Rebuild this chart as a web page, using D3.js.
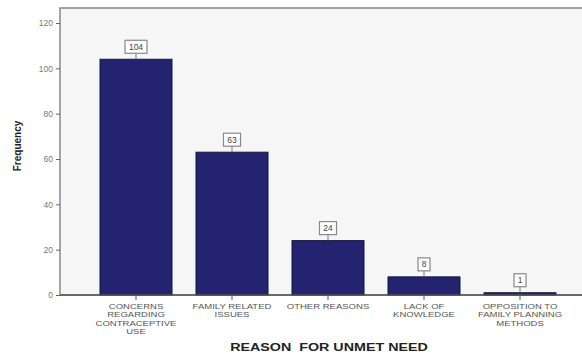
<!DOCTYPE html>
<html>
<head>
<meta charset="utf-8">
<script src="https://cdn.jsdelivr.net/npm/d3@7"></script>
<style>
	body { margin: 0; background: #fff; }
	text { font-family: "Liberation Sans", Arial, sans-serif; }
</style>
</head>
<body>
<svg width="582" height="356"></svg>
<script>
	var categories = [
		['CONCERNS', 'REGARDING', 'CONTRACEPTIVE', 'USE'],
		['FAMILY RELATED', 'ISSUES'],
		['OTHER REASONS'],
		['LACK OF', 'KNOWLEDGE'],
		['OPPOSITION TO', 'FAMILY PLANNING', 'METHODS']
	]
	var frequency = [104, 63, 24, 8, 1]
	var yTicks = [0, 20, 40, 60, 80, 100, 120]

	var svg = d3.select('svg')

	var plotLeft = 60, plotTop = 8, plotRight = 590, plotBottom = 295

	var x = d3.scaleBand()
		.domain(d3.range(categories.length))
		.range([88, 568])
		.paddingInner(0.25)
		.paddingOuter(0.125)

	var y = d3.scaleLinear()
		.domain([0, 120])
		.range([plotBottom, 23])

	// plot background
	svg.append('rect')
		.attr('x', plotLeft)
		.attr('y', plotTop)
		.attr('width', plotRight - plotLeft)
		.attr('height', plotBottom - plotTop)
		.attr('fill', '#f6f6f6')
		.attr('stroke', '#888')
		.attr('stroke-width', 1.5)

	// bars
	svg.selectAll('rect.bar')
		.data(frequency)
		.enter()
		.append('rect')
		.attr('class', 'bar')
		.attr('x', function(d, i) { return x(i) })
		.attr('y', function(d) { return y(d) })
		.attr('width', x.bandwidth())
		.attr('height', function(d) { return plotBottom - y(d) })
		.attr('fill', '#23236f')
		.attr('stroke', '#151540')
		.attr('stroke-width', 1)

	// value labels
	var lab = svg.selectAll('g.lab')
		.data(frequency)
		.enter()
		.append('g')
		.attr('transform', function(d, i) {
			return 'translate(' + (x(i) + x.bandwidth() / 2) + ',' + y(d) + ')'
		})
	lab.append('line')
		.attr('y1', 0)
		.attr('y2', -6)
		.attr('stroke', '#777')
	lab.append('rect')
		.attr('x', function(d) { return -(String(d).length * 2.5 + 3.5) })
		.attr('width', function(d) { return String(d).length * 5 + 7 })
		.attr('y', -19)
		.attr('height', 13)
		.attr('fill', '#fff')
		.attr('stroke', '#888')
		.attr('stroke-width', 1.2)
	lab.append('text')
		.attr('y', -9.5)
		.attr('text-anchor', 'middle')
		.attr('font-size', 8.5)
		.attr('fill', '#444')
		.text(function(d) { return d })

	// y axis
	var yAxis = svg.append('g')
		.attr('transform', 'translate(' + plotLeft + ',0)')
		.call(d3.axisLeft(y).tickValues(yTicks).tickSize(4).tickPadding(3))
	yAxis.select('.domain').remove()
	yAxis.selectAll('line').attr('stroke', '#666')
	yAxis.selectAll('text').attr('font-size', 8.5).attr('fill', '#777')

	// x axis
	svg.append('line')
		.attr('x1', plotLeft).attr('x2', plotRight)
		.attr('y1', plotBottom).attr('y2', plotBottom)
		.attr('stroke', '#555').attr('stroke-width', 1.5)

	var xt = svg.selectAll('g.xt')
		.data(categories)
		.enter()
		.append('g')
		.attr('transform', function(d, i) {
			return 'translate(' + (x(i) + x.bandwidth() / 2) + ',' + plotBottom + ')'
		})
	xt.append('line')
		.attr('y1', 0).attr('y2', 5)
		.attr('stroke', '#555')
	xt.append('text')
		.attr('transform', 'scale(1.27,1)')
		.attr('text-anchor', 'middle')
		.attr('font-size', 7.5)
		.attr('fill', '#555')
		.selectAll('tspan')
		.data(function(d) { return d })
		.enter()
		.append('tspan')
		.attr('x', 0)
		.attr('y', function(d, j) { return 14 + j * 8.3 })
		.text(function(d) { return d })

	// titles
	svg.append('text')
		.attr('transform', 'translate(329,351) scale(1.3,1)')
		.attr('text-anchor', 'middle')
		.attr('font-size', 11)
		.attr('font-weight', 'bold')
		.attr('fill', '#222')
		.attr('xml:space', 'preserve')
		.text('REASON  FOR UNMET NEED')

	svg.append('text')
		.attr('transform', 'translate(21,146) rotate(-90)')
		.attr('text-anchor', 'middle')
		.attr('font-size', 10)
		.attr('font-weight', 'bold')
		.attr('fill', '#222')
		.text('Frequency')
</script>
</body>
</html>
